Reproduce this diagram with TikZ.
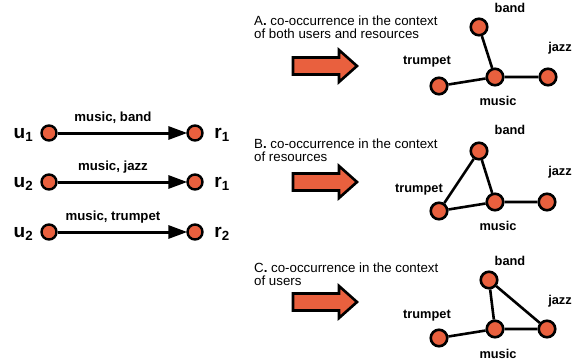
\documentclass[tikz,border=0pt]{standalone}
\usepackage{fontspec}
\setmainfont{Liberation Sans}
\usetikzlibrary{arrows.meta}
\definecolor{org}{HTML}{E9603E}
\begin{document}
\begin{tikzpicture}[x=1pt,y=-1pt,
  vtx/.style={circle,draw=black,fill=org,line width=2.4pt,minimum size=15pt,inner sep=0pt},
  gvtx/.style={circle,draw=black,fill=org,line width=2.6pt,minimum size=16.5pt,inner sep=0pt},
  lab/.style={font=\fontsize{12.8}{14}\selectfont\bfseries,inner sep=0pt},
  elab/.style={font=\fontsize{13.2}{15}\selectfont\bfseries,inner sep=0pt},
  ulab/.style={font=\fontsize{19}{20}\selectfont\bfseries,inner sep=0pt},
  desc/.style={font=\fontsize{13.3}{13}\selectfont,align=left,inner sep=0pt,anchor=north west},
  edge/.style={line width=2.6pt},
  rel/.style={line width=3pt,-{Triangle[length=19pt,width=13pt]},shorten >=-1pt},
  bigarrow/.style={draw=black,fill=org,line width=2.6pt,line join=miter}
]
\useasboundingbox (0,0) rectangle (580,362);

% left part
\node[vtx] (u1) at (49,133) {};
\node[vtx] (r1) at (195,133) {};
\node[vtx] (u2) at (49,182) {};
\node[vtx] (r2) at (195,182) {};
\node[vtx] (u3) at (49,232) {};
\node[vtx] (r3) at (195,232) {};
\node[ulab,anchor=base] (ul1) at (23.5,138.5) {u\textsubscript{1}};
\node[ulab,anchor=base] (ul2) at (23.5,187.5) {u\textsubscript{2}};
\node[ulab,anchor=base] (ul3) at (23.5,237.5) {u\textsubscript{2}};
\node[ulab,anchor=base] (rl1) at (222,138.5) {r\textsubscript{1}};
\node[ulab,anchor=base] (rl2) at (222,187.5) {r\textsubscript{1}};
\node[ulab,anchor=base] (rl3) at (222,237.5) {r\textsubscript{2}};
\node[elab] (el1) at (113,118) {music, band};
\node[elab] (el2) at (113,167) {music, jazz};
\node[elab] (el3) at (113,217) {music, trumpet};
\draw[rel] (u1) -- (r1);
\draw[rel] (u2) -- (r2);
\draw[rel] (u3) -- (r3);

% descriptions
\node[desc] (dA) at (254,16) {A\textbf{.} co-occurrence in the context\\[-0.3pt]of both users and resources};
\node[desc] (dB) at (254,139) {B\textbf{.} co-occurrence in the context\\[-0.3pt]of resources};
\node[desc] (dC) at (254,263) {C\textbf{.} co-occurrence in the context\\[-0.3pt]of users};

% big arrows
\foreach \n/\y in {A/66,B/182,C/302}{
  \draw[bigarrow] (293,\y-8.5) -- (339,\y-8.5) -- (339,\y-16) -- (357,\y) -- (339,\y+16) -- (339,\y+8.5) -- (293,\y+8.5) -- cycle;
}

% graph A
\node[gvtx] (bA) at (479,27) {};
\node[gvtx] (mA) at (495,77) {};
\node[gvtx] (tA) at (439,86) {};
\node[gvtx] (jA) at (548,77) {};
\node[lab] (lbA) at (510,8) {band};
\node[lab] (lmA) at (498,101) {music};
\node[lab] (ltA) at (427,62) {trumpet};
\node[lab] (ljA) at (560,48) {jazz};
\draw[edge] (bA) -- (mA) (tA) -- (mA) (mA) -- (jA);

% graph B
\node[gvtx] (bB) at (479,151) {};
\node[gvtx] (mB) at (495,202) {};
\node[gvtx] (tB) at (439,211) {};
\node[gvtx] (jB) at (547,202) {};
\node[lab] (lbB) at (510,130) {band};
\node[lab] (lmB) at (498,226) {music};
\node[lab] (ltB) at (419,190) {trumpet};
\node[lab] (ljB) at (560,172) {jazz};
\draw[edge] (bB) -- (tB) (bB) -- (mB) (tB) -- (mB) (mB) -- (jB);

% graph C
\node[gvtx] (bC) at (489,280) {};
\node[gvtx] (mC) at (495,329) {};
\node[gvtx] (tC) at (439,338) {};
\node[gvtx] (jC) at (547,329) {};
\node[lab] (lbC) at (510,261) {band};
\node[lab] (lmC) at (498,354) {music};
\node[lab] (ltC) at (427,316) {trumpet};
\node[lab] (ljC) at (560,301) {jazz};
\draw[edge] (bC) -- (mC) (bC) -- (jC) (mC) -- (jC) (tC) -- (mC);
\end{tikzpicture}
\end{document}
